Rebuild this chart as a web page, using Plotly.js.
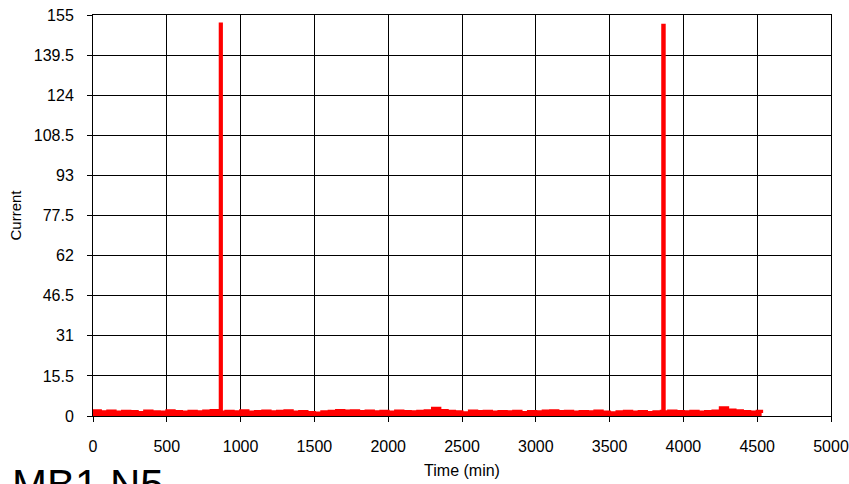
<!DOCTYPE html>
<html>
<head>
<meta charset="utf-8">
<script src="https://cdn.plot.ly/plotly-3.0.1.min.js"></script>
<style>html,body{margin:0;padding:0;background:#fff;}#chart{width:849px;height:484px;}</style>
</head>
<body>
<div id="chart"></div>
<script>
// Time (min)
const times = [
  0,50,100,150,200,250,300,350,400,450,500,550,600,650,700,750,800,850,
  860,862,868,870,
  900,950,1000,1050,1100,1150,1200,1250,1300,1350,1400,1450,1500,1550,1600,1650,1700,1750,1800,1850,
  1900,1950,2000,2050,2100,2150,2200,2250,2300,2350,2400,2450,2500,2550,2600,2650,2700,2750,2800,2850,
  2900,2950,3000,3050,3100,3150,3200,3250,3300,3350,3400,3450,3500,3550,3600,3650,3700,3750,3800,3850,
  3856,3860,3866,3870,
  3900,3950,4000,4050,4100,4150,4200,4250,4300,4350,4400,4450,4500,4530
];
// Current
const current = [
  2.0,1.6,1.9,1.5,1.8,1.7,1.4,1.9,1.6,1.5,2.0,1.7,1.5,1.8,1.6,1.9,2.1,1.7,
  1.5,151.5,151.5,1.5,
  1.8,1.6,2.0,1.5,1.7,1.9,1.6,1.8,2.0,1.5,1.7,1.4,1.2,1.6,1.8,2.1,1.9,2.0,1.7,1.9,
  1.6,1.8,1.5,1.9,1.7,1.6,1.8,2.0,3.0,2.1,1.8,1.6,1.3,1.9,1.7,1.8,1.5,1.7,1.6,1.8,
  1.4,1.7,1.6,1.9,2.0,1.7,1.8,1.5,1.7,1.6,1.9,1.5,1.3,1.6,1.8,1.5,1.7,1.4,1.6,1.8,
  1.6,151,151,1.6,
  1.9,1.7,1.6,1.8,1.5,1.7,1.9,3.2,2.3,2.0,1.7,1.5,1.8,1.2
];
const yTicks = [0,15.5,31,46.5,62,77.5,93,108.5,124,139.5,155];
const xTicks = [0,500,1000,1500,2000,2500,3000,3500,4000,4500,5000];

const font = "Liberation Sans, Arial, sans-serif";

const trace = {
  x: times, y: current, type: 'scatter', mode: 'lines',
  line: {color: '#ff0000', width: 3, shape: 'hv'},
  fill: 'tozeroy', fillcolor: '#ff0000',
  hoverinfo: 'x+y'
};

const layout = {
  width: 849, height: 484,
  margin: {l: 93, r: 18, t: 15, b: 68},
  paper_bgcolor: '#ffffff', plot_bgcolor: '#ffffff',
  showlegend: false,
  font: {family: font, size: 16, color: '#000'},
  xaxis: {
    range: [0, 5000], tickvals: xTicks, ticktext: xTicks.map(String),
    showgrid: true, gridcolor: '#000', gridwidth: 1,
    showline: true, linecolor: '#000', linewidth: 1, mirror: true,
    ticks: 'outside', ticklen: 5, tickcolor: '#000',
    ticklabelstandoff: 11,
    zeroline: false,
    tickfont: {family: font, size: 16, color: '#000'},
    title: {text: 'Time (min)', font: {family: font, size: 16, color: '#000'}, standoff: 10}
  },
  yaxis: {
    range: [0, 155], tickvals: yTicks, ticktext: yTicks.map(String),
    showgrid: true, gridcolor: '#000', gridwidth: 1,
    showline: true, linecolor: '#000', linewidth: 1, mirror: true,
    ticks: 'outside', ticklen: 5, tickcolor: '#000',
    ticklabelstandoff: 10,
    zeroline: false,
    tickfont: {family: font, size: 16, color: '#000'},
    title: {text: 'Current', font: {family: font, size: 15, color: '#000'}, standoff: 8}
  },
  annotations: [{
    xref: 'paper', yref: 'paper', x: -0.113, y: -0.108,
    xanchor: 'left', yanchor: 'top',
    text: 'MB1 N5', showarrow: false,
    font: {family: font, size: 42, color: '#000'}
  }]
};

Plotly.newPlot('chart', [trace], layout, {displayModeBar: false, staticPlot: true});
</script>
</body>
</html>
